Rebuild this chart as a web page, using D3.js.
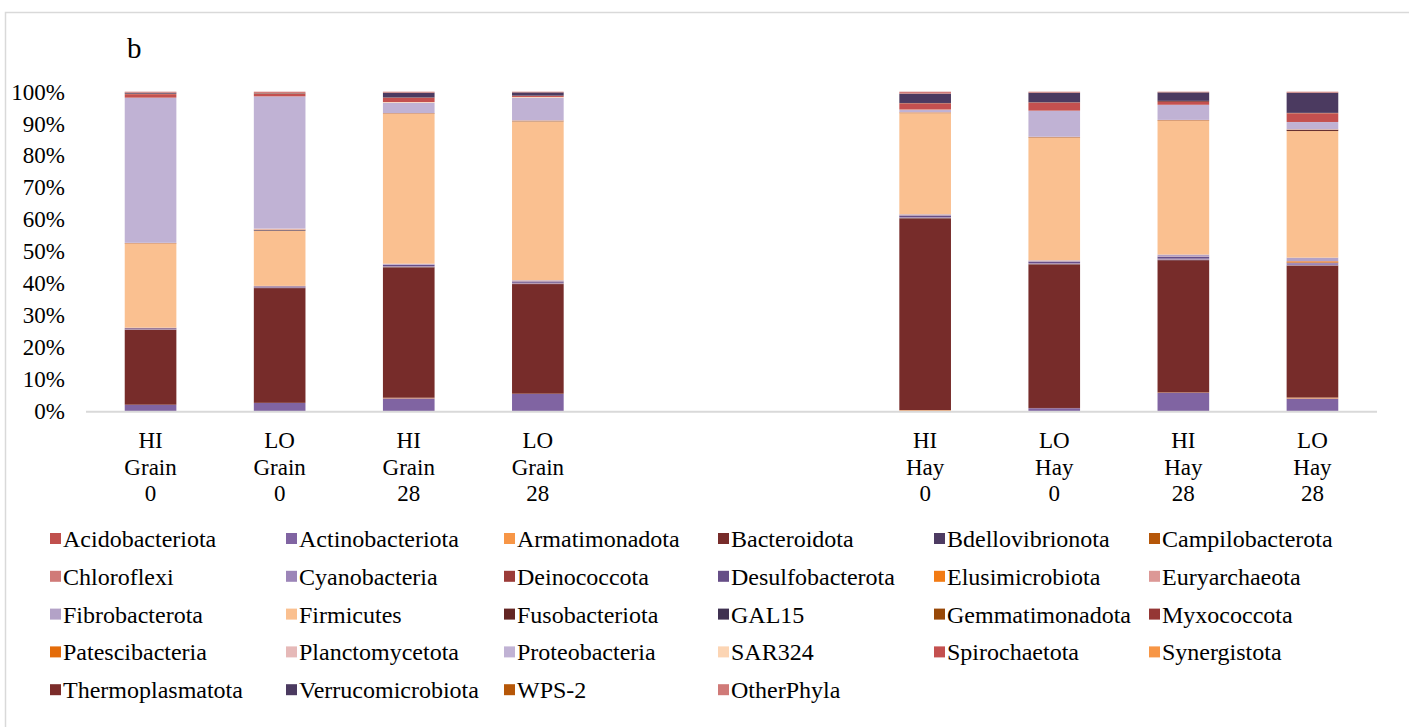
<!DOCTYPE html>
<html>
<head>
<meta charset="utf-8">
<script src="https://cdn.jsdelivr.net/npm/d3@7"></script>
<style>
  html, body { margin: 0; padding: 0; background: #ffffff; }
  svg { display: block; font-family: "Liberation Serif", "Times New Roman", serif; }
</style>
</head>
<body>
<svg id="chart" width="1409" height="727"></svg>
<script>
// Sample slots along the x axis (two empty slots separate Grain from Hay)
const slots = ["HI Grain 0", "LO Grain 0", "HI Grain 28", "LO Grain 28", "gap-a", "gap-b",
               "HI Hay 0", "LO Hay 0", "HI Hay 28", "LO Hay 28"];
const samples = ["HI Grain 0", "LO Grain 0", "HI Grain 28", "LO Grain 28",
                 "HI Hay 0", "LO Hay 0", "HI Hay 28", "LO Hay 28"];
const sampleLines = [["HI", "Grain", "0"], ["LO", "Grain", "0"], ["HI", "Grain", "28"], ["LO", "Grain", "28"],
                     ["HI", "Hay", "0"], ["LO", "Hay", "0"], ["HI", "Hay", "28"], ["LO", "Hay", "28"]];
const yTicks = [0, 0.1, 0.2, 0.3, 0.4, 0.5, 0.6, 0.7, 0.8, 0.9, 1.0];

// Relative abundance (%) of each phylum, one value per sample in the order above
const phyla = ["Acidobacteriota", "Actinobacteriota", "Armatimonadota", "Bacteroidota", "Bdellovibrionota",
  "Campilobacterota", "Chloroflexi", "Cyanobacteria", "Deinococcota", "Desulfobacterota", "Elusimicrobiota",
  "Euryarchaeota", "Fibrobacterota", "Firmicutes", "Fusobacteriota", "GAL15", "Gemmatimonadota", "Myxococcota",
  "Patescibacteria", "Planctomycetota", "Proteobacteria", "SAR324", "Spirochaetota", "Synergistota",
  "Thermoplasmatota", "Verrucomicrobiota", "WPS-2", "OtherPhyla"];

const acidobacteriota   = [0.05, 0.05, 0.10, 0.10, 0.10, 0.10, 0.10, 0.10];
const actinobacteriota  = [2.00, 2.60, 4.00, 5.40, 0.10, 0.90, 5.80, 3.90];
const armatimonadota    = [0.02, 0.02, 0.20, 0.05, 0.20, 0.05, 0.10, 0.30];
const bacteroidota      = [23.5, 36.2, 41.3, 34.6, 59.8, 45.2, 42.2, 41.2];
const bdellovibrionota  = [0.05, 0.05, 0.10, 0.10, 0.10, 0.10, 0.10, 0.10];
const campilobacterota  = [0.02, 0.02, 0.05, 0.05, 0.05, 0.05, 0.05, 0.05];
const chloroflexi       = [0.05, 0.05, 0.05, 0.05, 0.05, 0.05, 0.05, 0.05];
const cyanobacteria     = [0.10, 0.10, 0.20, 0.20, 0.20, 0.20, 0.30, 0.60];
const deinococcota      = [0.02, 0.02, 0.02, 0.02, 0.02, 0.02, 0.02, 0.02];
const desulfobacterota  = [0.30, 0.30, 0.40, 0.40, 0.50, 0.50, 0.60, 0.20];
const elusimicrobiota   = [0.02, 0.02, 0.02, 0.02, 0.02, 0.02, 0.02, 0.40];
const euryarchaeota     = [0.05, 0.05, 0.05, 0.05, 0.05, 0.05, 0.05, 0.05];
const fibrobacterota    = [0.10, 0.10, 0.30, 0.30, 0.30, 0.30, 0.60, 1.10];
const firmicutes        = [26.4, 17.4, 47.5, 50.2, 31.6, 38.7, 42.7, 39.6];
const fusobacteriota    = [0.02, 0.10, 0.05, 0.05, 0.05, 0.05, 0.05, 0.30];
const gal15             = [0.02, 0.15, 0.02, 0.02, 0.02, 0.02, 0.02, 0.02];
const gemmatimonadota   = [0.02, 0.02, 0.02, 0.02, 0.02, 0.02, 0.02, 0.02];
const myxococcota       = [0.02, 0.02, 0.02, 0.02, 0.02, 0.02, 0.02, 0.02];
const patescibacteria   = [0.10, 0.10, 0.10, 0.10, 0.10, 0.10, 0.10, 0.10];
const planctomycetota   = [0.10, 0.30, 0.05, 0.05, 0.10, 0.05, 0.05, 0.05];
const proteobacteria    = [45.6, 41.7, 3.30, 7.20, 0.70, 8.20, 4.80, 2.30];
const sar324            = [0.02, 0.02, 0.20, 0.20, 0.10, 0.02, 0.02, 0.02];
const spirochaetota     = [1.10, 0.80, 1.30, 0.30, 1.90, 2.50, 0.90, 2.70];
const synergistota      = [0.10, 0.10, 0.05, 0.05, 0.05, 0.05, 0.05, 0.05];
const thermoplasmatota  = [0.05, 0.05, 0.10, 0.10, 0.10, 0.10, 0.30, 0.10];
const verrucomicrobiota = [0.30, 0.10, 1.50, 1.00, 2.90, 3.00, 2.70, 6.30];
const wps2              = [0.02, 0.02, 0.02, 0.02, 0.02, 0.02, 0.02, 0.02];
const otherPhyla        = [0.30, 0.40, 0.30, 0.20, 0.60, 0.30, 0.20, 0.30];

const seriesValues = [acidobacteriota, actinobacteriota, armatimonadota, bacteroidota, bdellovibrionota,
  campilobacterota, chloroflexi, cyanobacteria, deinococcota, desulfobacterota, elusimicrobiota,
  euryarchaeota, fibrobacterota, firmicutes, fusobacteriota, gal15, gemmatimonadota, myxococcota,
  patescibacteria, planctomycetota, proteobacteria, sar324, spirochaetota, synergistota,
  thermoplasmatota, verrucomicrobiota, wps2, otherPhyla];

const phylumColors = ["#c0504d", "#8064a2", "#f79646", "#772c2a", "#4d3b62", "#b65708", "#d07a78",
  "#9c85b8", "#9b3b38", "#664e87", "#f27b14", "#dc9896", "#b3a2c7", "#fac090", "#632523", "#3f3151",
  "#984807", "#953735", "#e46c0a", "#e6b9b8", "#c0b2d4", "#fcd5b4", "#c4504f", "#f79646", "#7b2c2a",
  "#4b3a60", "#b65708", "#d07a78"];

// ---- layout ----
const svg = d3.select("#chart");
const W = 1409, H = 727;
const plotLeft = 86, plotRight = 1377, plotTop = 91.7, plotBottom = 411.3;

// light frame round the whole chart area
svg.append("rect")
  .attr("x", 5.5).attr("y", 12.5)
  .attr("width", W + 20).attr("height", H + 20)
  .attr("fill", "none").attr("stroke", "#d9d9d9").attr("stroke-width", 1.5);

const x = d3.scaleBand().domain(slots).range([plotLeft, plotRight]).paddingInner(0.6).paddingOuter(0.3);
const y = d3.scaleLinear().domain([0, 1]).range([plotBottom, plotTop]);

// rows for the stack
const rows = samples.map((s, i) => {
  const r = { sample: s };
  phyla.forEach((p, k) => { r[p] = seriesValues[k][i]; });
  return r;
});
const stacked = d3.stack().keys(phyla).offset(d3.stackOffsetExpand)(rows);
const color = d3.scaleOrdinal().domain(phyla).range(phylumColors);

// y axis labels
const yAxis = d3.axisLeft(y).tickValues(yTicks).tickFormat(d3.format(".0%")).tickSize(0).tickPadding(0);
const yg = svg.append("g").attr("transform", `translate(65,0)`).call(yAxis);
yg.select(".domain").remove();
yg.selectAll("text").attr("font-size", 23).attr("fill", "#000")
  .attr("font-family", "Liberation Serif, Times New Roman, serif");

// bars
svg.append("g").selectAll("g").data(stacked).join("g")
  .attr("fill", d => color(d.key))
  .selectAll("rect").data(d => d).join("rect")
  .attr("x", d => x(d.data.sample))
  .attr("width", x.bandwidth())
  .attr("y", d => y(d[1]))
  .attr("height", d => Math.max(0, y(d[0]) - y(d[1])));

// x axis baseline
svg.append("line")
  .attr("x1", plotLeft).attr("x2", plotRight)
  .attr("y1", plotBottom + 0.5).attr("y2", plotBottom + 0.5)
  .attr("stroke", "#d9d9d9").attr("stroke-width", 2);

// x category labels (three lines each)
const xl = svg.append("g").selectAll("text").data(samples).join("text")
  .attr("text-anchor", "middle")
  .attr("font-size", 23).attr("fill", "#000")
  .attr("transform", d => `translate(${x(d) + x.bandwidth() / 2},0)`);
xl.each(function (d, i) {
  const t = d3.select(this);
  sampleLines[i].forEach((line, j) => {
    t.append("tspan").attr("x", 0).attr("y", 448 + j * 26.5).text(line);
  });
});

// panel letter
svg.append("text").attr("x", 127).attr("y", 58).attr("font-size", 29).attr("fill", "#000").text("b");

// legend: 6 columns, filled row by row
const legendCols = [50, 286, 504, 718, 934, 1149];
const legendRow0 = 539, legendRowStep = 37.8;
const lg = svg.append("g").selectAll("g").data(phyla).join("g")
  .attr("transform", (d, i) => `translate(${legendCols[i % 6]},${legendRow0 + Math.floor(i / 6) * legendRowStep})`);
lg.append("rect").attr("x", 0).attr("y", -6).attr("width", 11).attr("height", 11)
  .attr("fill", d => color(d));
lg.append("text").attr("x", 13).attr("y", 8).attr("font-size", 24).attr("fill", "#000").text(d => d);
</script>
</body>
</html>
